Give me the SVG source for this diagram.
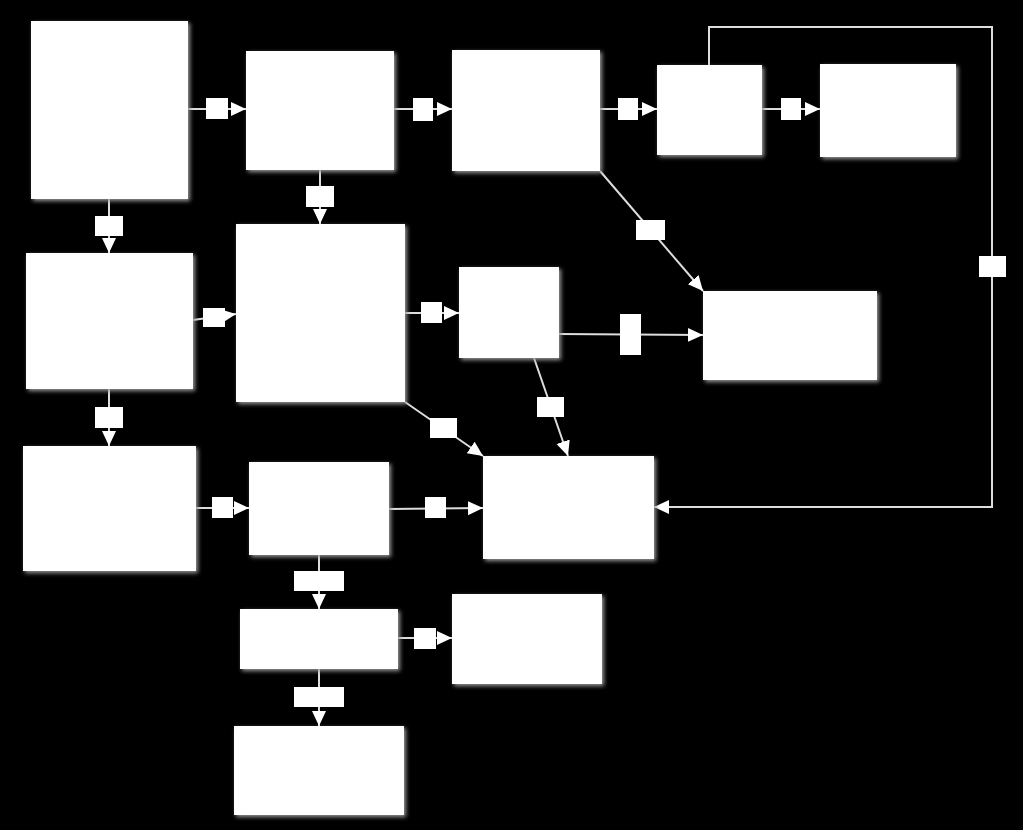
<svg xmlns="http://www.w3.org/2000/svg" width="1023" height="830" viewBox="0 0 1023 830">
<style>
.n{fill:#fff;filter:url(#sh)}
.c{stroke:#ddd;stroke-width:2;fill:none;marker-end:url(#ah)}
.c2{stroke:#ddd;stroke-width:2;fill:none}
.l{fill:#fff}
</style>
<defs>
<filter id="sh" x="-10%" y="-10%" width="120%" height="120%">
<feGaussianBlur in="SourceAlpha" stdDeviation="2"/>
<feOffset dx="2" dy="2" result="b"/>
<feFlood flood-color="#999"/>
<feComposite in2="b" operator="in" result="s"/>
<feMerge><feMergeNode in="s"/><feMergeNode in="SourceGraphic"/></feMerge>
</filter>
<marker id="ah" markerUnits="userSpaceOnUse" markerWidth="16" markerHeight="16" refX="15" refY="8" orient="auto">
<path d="M0,1 L15,8 L0,15 Z" fill="#fff"/>
</marker>
</defs>
<rect width="1023" height="830" fill="#000"/>
<g id="connectors">
<line class="c" x1="188" y1="109" x2="246" y2="109"/>
<line class="c" x1="394" y1="109" x2="452" y2="109"/>
<line class="c" x1="600" y1="109" x2="657" y2="109"/>
<line class="c" x1="762" y1="109" x2="820" y2="109"/>
<line class="c" x1="109" y1="199" x2="109" y2="253"/>
<line class="c" x1="320" y1="170" x2="320" y2="224"/>
<line class="c" x1="600" y1="171" x2="703" y2="291"/>
<line class="c" x1="193" y1="320" x2="236" y2="314"/>
<line class="c" x1="405" y1="313" x2="459" y2="313"/>
<line class="c" x1="559" y1="334" x2="703" y2="335"/>
<line class="c" x1="534" y1="358" x2="568" y2="456"/>
<line class="c" x1="405" y1="402" x2="483" y2="456"/>
<line class="c" x1="109" y1="389" x2="109" y2="446"/>
<line class="c" x1="196" y1="508" x2="249" y2="508"/>
<line class="c" x1="389" y1="509" x2="483" y2="508"/>
<line class="c" x1="319" y1="555" x2="319" y2="609"/>
<line class="c" x1="398" y1="638" x2="452" y2="638"/>
<line class="c" x1="319" y1="669" x2="319" y2="726"/>
<polyline class="c" points="709,65 709,27 992,27 992,507 654,507"/>
<rect class="l" x="206" y="98" width="22" height="21"/>
<rect class="l" x="413" y="98" width="20" height="23"/>
<rect class="l" x="618" y="98" width="20" height="22"/>
<rect class="l" x="781" y="98" width="20" height="22"/>
<rect class="l" x="95" y="216" width="28" height="20"/>
<rect class="l" x="306" y="186" width="28" height="21"/>
<rect class="l" x="636" y="220" width="29" height="20"/>
<rect class="l" x="203" y="308" width="22" height="19"/>
<rect class="l" x="421" y="302" width="21" height="21"/>
<rect class="l" x="620" y="314" width="21" height="41"/>
<rect class="l" x="537" y="397" width="27" height="20"/>
<rect class="l" x="430" y="418" width="27" height="20"/>
<rect class="l" x="95" y="407" width="28" height="21"/>
<rect class="l" x="212" y="497" width="21" height="21"/>
<rect class="l" x="425" y="497" width="21" height="21"/>
<rect class="l" x="294" y="571" width="50" height="20"/>
<rect class="l" x="414" y="628" width="22" height="21"/>
<rect class="l" x="294" y="687" width="50" height="20"/>
<rect class="l" x="979" y="256" width="27" height="21"/>
</g>
<g id="nA"><rect class="n" x="31" y="21" width="157" height="178"/></g>
<g id="nB"><rect class="n" x="246" y="51" width="148" height="119"/></g>
<g id="nC"><rect class="n" x="452" y="50" width="148" height="121"/></g>
<g id="nD"><rect class="n" x="657" y="65" width="105" height="90"/></g>
<g id="nE"><rect class="n" x="820" y="64" width="136" height="93"/></g>
<g id="nF"><rect class="n" x="26" y="253" width="167" height="136"/></g>
<g id="nG"><rect class="n" x="236" y="224" width="169" height="178"/></g>
<g id="nH"><rect class="n" x="459" y="267" width="100" height="91"/></g>
<g id="nI"><rect class="n" x="703" y="291" width="174" height="89"/></g>
<g id="nJ"><rect class="n" x="23" y="446" width="173" height="125"/></g>
<g id="nK"><rect class="n" x="249" y="462" width="140" height="93"/></g>
<g id="nL"><rect class="n" x="483" y="456" width="171" height="103"/></g>
<g id="nM"><rect class="n" x="240" y="609" width="158" height="60"/></g>
<g id="nN"><rect class="n" x="452" y="594" width="150" height="90"/></g>
<g id="nO"><rect class="n" x="234" y="726" width="170" height="89"/></g>
</svg>
